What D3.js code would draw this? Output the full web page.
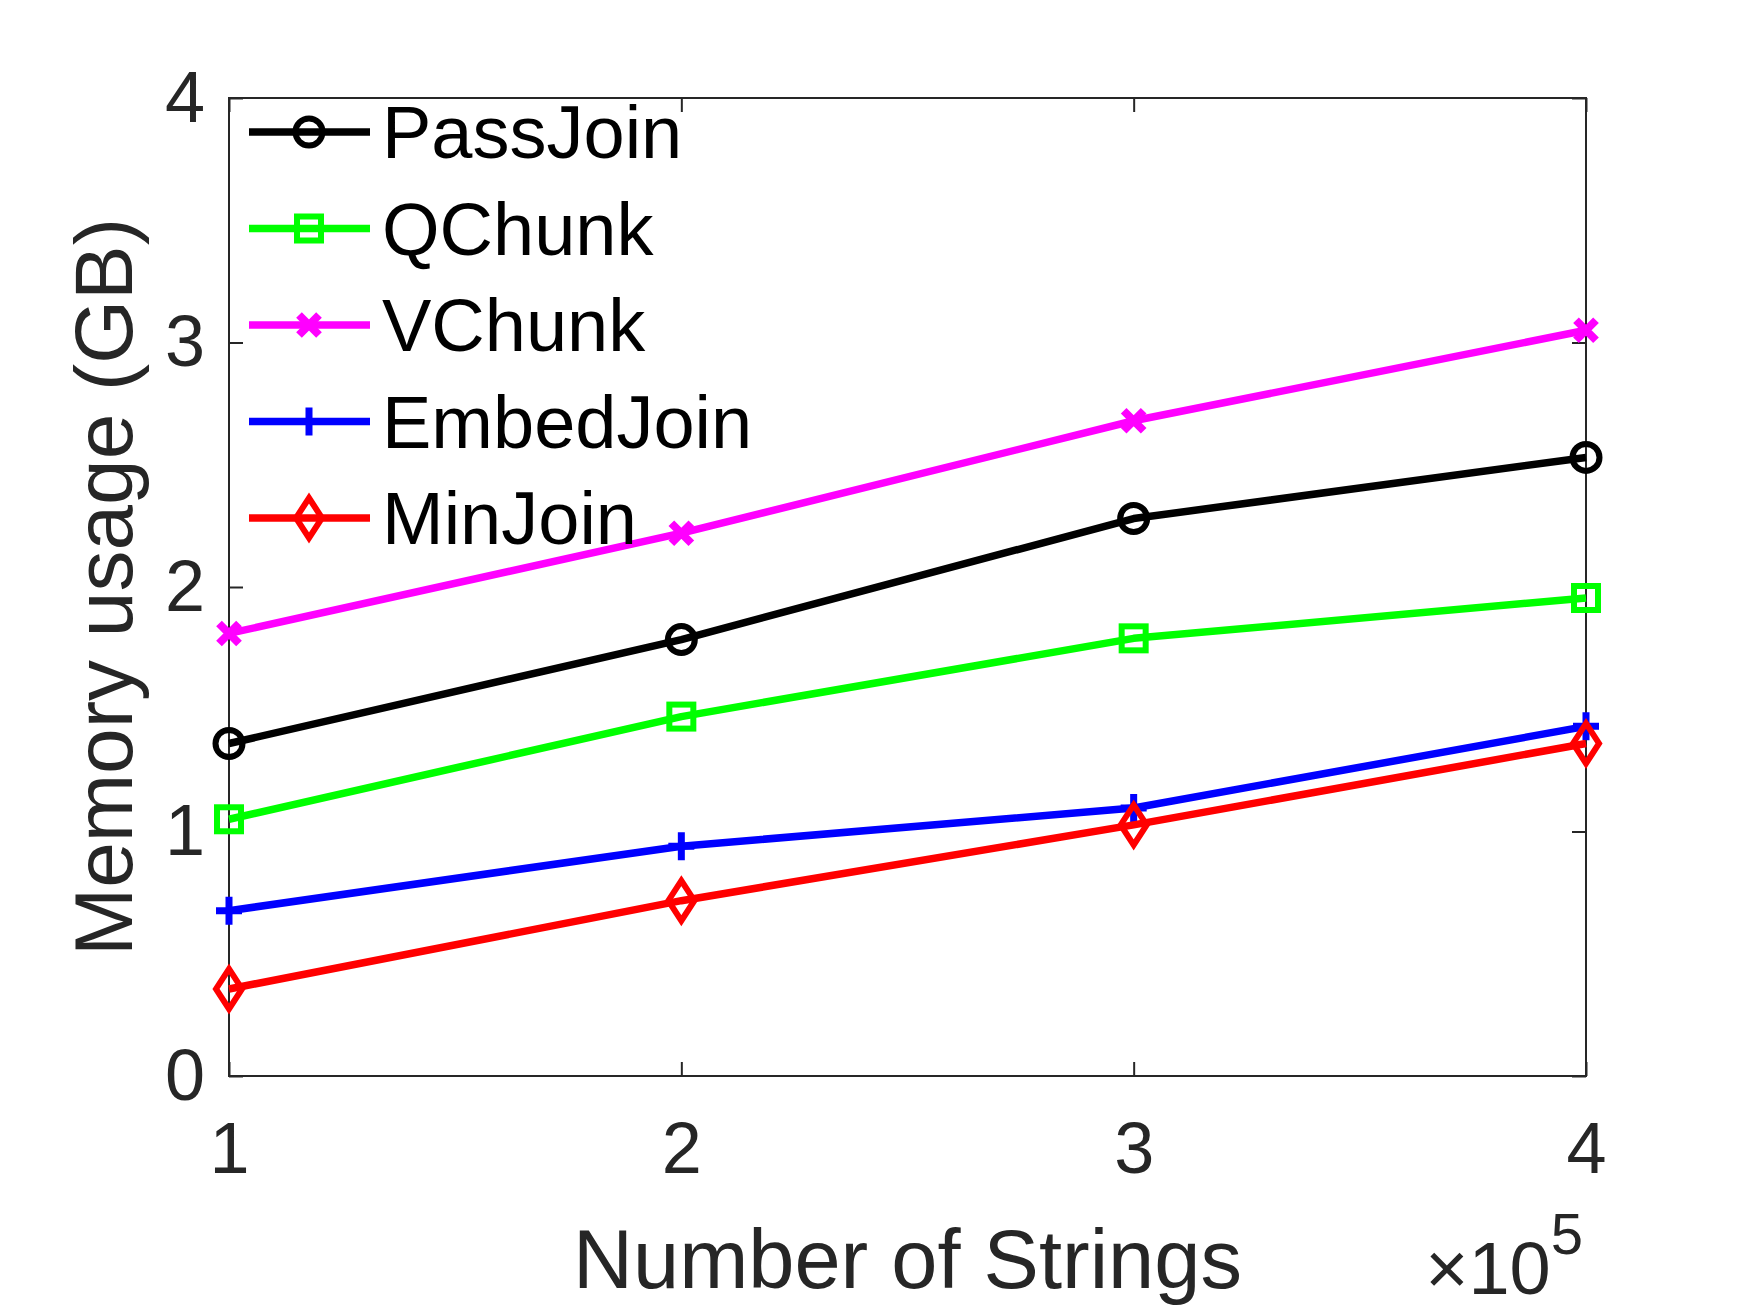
<!DOCTYPE html>
<html>
<head>
<meta charset="utf-8">
<script src="https://cdn.jsdelivr.net/npm/d3@7"></script>
<style>
  body { margin: 0; background: #fff; }
  text { font-family: Arial, "Liberation Sans", Helvetica, sans-serif; }
</style>
</head>
<body>
<svg id="chart" width="1750" height="1312"></svg>
<script>
// data (x in units of 1e5 strings, y in GB)
const xValues = [1, 2, 3, 4];
const xTicks = [1, 2, 3, 4];
const yTicks = [0, 1, 2, 3, 4];

const passJoin = [1.36, 1.785, 2.28, 2.53];
const qChunk = [1.05, 1.47, 1.79, 1.955];
const vChunk = [1.81, 2.22, 2.68, 3.05];
const embedJoin = [0.676, 0.94, 1.096, 1.43];
const minJoin = [0.356, 0.717, 1.027, 1.36];

const seriesNames = ["PassJoin", "QChunk", "VChunk", "EmbedJoin", "MinJoin"];

const series = [
  { name: seriesNames[0], values: passJoin, color: "#000000", marker: "circle" },
  { name: seriesNames[1], values: qChunk, color: "#00ff00", marker: "square" },
  { name: seriesNames[2], values: vChunk, color: "#ff00ff", marker: "cross" },
  { name: seriesNames[3], values: embedJoin, color: "#0000ff", marker: "plus" },
  { name: seriesNames[4], values: minJoin, color: "#ff0000", marker: "diamond" }
];

const WIDTH = 1750;
const HEIGHT = 1312;
const MARGINS = { top: 98, right: 164, bottom: 236, left: 229 };
const AXIS = "#262626";

const svg = d3.select("#chart");

const x = d3.scaleLinear()
  .domain([1, 4])
  .range([MARGINS.left, WIDTH - MARGINS.right]);

const y = d3.scaleLinear()
  .domain([0, 4])
  .range([HEIGHT - MARGINS.bottom, MARGINS.top]);

const [x0, x1] = x.range();
const [y0, y1] = y.range();

// axes box (ticks point inward, MATLAB style)
svg.append("g")
  .attr("transform", `translate(0,${y0})`)
  .call(d3.axisBottom(x).tickValues(xTicks).tickFormat(d3.format("d"))
    .tickSizeInner(-14).tickSizeOuter(0).tickPadding(46))
  .call(g => g.select(".domain").remove())
  .call(g => g.selectAll("line").attr("stroke", AXIS).attr("stroke-width", 2))
  .call(g => g.selectAll("text").attr("fill", AXIS).attr("font-size", 72));

svg.append("g")
  .attr("transform", `translate(0,${y1})`)
  .call(d3.axisTop(x).tickValues(xTicks).tickFormat("")
    .tickSizeInner(-14).tickSizeOuter(0))
  .call(g => g.select(".domain").remove())
  .call(g => g.selectAll("line").attr("stroke", AXIS).attr("stroke-width", 2));

svg.append("g")
  .attr("transform", `translate(${x0},0)`)
  .call(d3.axisLeft(y).tickValues(yTicks).tickFormat(d3.format("d"))
    .tickSizeInner(-14).tickSizeOuter(0).tickPadding(24))
  .call(g => g.select(".domain").remove())
  .call(g => g.selectAll("line").attr("stroke", AXIS).attr("stroke-width", 2))
  .call(g => g.selectAll("text").attr("fill", AXIS).attr("font-size", 72));

svg.append("g")
  .attr("transform", `translate(${x1},0)`)
  .call(d3.axisRight(y).tickValues(yTicks).tickFormat("")
    .tickSizeInner(-14).tickSizeOuter(0))
  .call(g => g.select(".domain").remove())
  .call(g => g.selectAll("line").attr("stroke", AXIS).attr("stroke-width", 2));

svg.append("rect")
  .attr("x", x0).attr("y", y1)
  .attr("width", x1 - x0).attr("height", y0 - y1)
  .attr("fill", "none").attr("stroke", AXIS).attr("stroke-width", 2);

// axis labels
svg.append("text")
  .attr("x", (x0 + x1) / 2)
  .attr("y", 1288)
  .attr("text-anchor", "middle")
  .attr("font-size", 83)
  .attr("fill", AXIS)
  .text("Number of Strings");

svg.append("text")
  .attr("transform", `translate(132,${(y0 + y1) / 2}) rotate(-90)`)
  .attr("text-anchor", "middle")
  .attr("font-size", 82)
  .attr("fill", AXIS)
  .text("Memory usage (GB)");

// exponent label
const expo = svg.append("text")
  .attr("x", x1 - 3)
  .attr("y", 1294)
  .attr("text-anchor", "end")
  .attr("font-size", 74)
  .attr("fill", AXIS);
expo.append("tspan").text("×10");
expo.append("tspan").attr("dy", -40).attr("font-size", 58).text("5");

// markers
function drawMarker(g, type, color, cx, cy) {
  const m = g.append("g").attr("transform", `translate(${cx},${cy})`);
  if (type === "circle") {
    m.append("circle").attr("r", 13.5)
      .attr("fill", "none").attr("stroke", color).attr("stroke-width", 6);
  } else if (type === "square") {
    m.append("rect").attr("x", -12).attr("y", -12).attr("width", 24).attr("height", 24)
      .attr("fill", "none").attr("stroke", color).attr("stroke-width", 6);
  } else if (type === "diamond") {
    m.append("path").attr("d", "M0,-20L13,0L0,20L-13,0Z")
      .attr("fill", "none").attr("stroke", color).attr("stroke-width", 6);
  } else if (type === "plus") {
    m.append("path").attr("d", "M-13,0H13M0,-14V14")
      .attr("stroke", color).attr("stroke-width", 7);
  } else if (type === "cross") {
    m.append("path").attr("d", "M-10,-10L10,10M-10,10L10,-10")
      .attr("stroke", color).attr("stroke-width", 8);
  }
}

const line = d3.line()
  .x((d, i) => x(xValues[i]))
  .y(d => y(d));

const plot = svg.append("g");

series.forEach(s => {
  plot.append("path")
    .datum(s.values)
    .attr("d", line)
    .attr("fill", "none")
    .attr("stroke", s.color)
    .attr("stroke-width", 7.5)
    .attr("stroke-linejoin", "round");
  s.values.forEach((v, i) => drawMarker(plot, s.marker, s.color, x(xValues[i]), y(v)));
});

// legend, no box
const legend = svg.append("g");
series.forEach((s, i) => {
  const ly = 132 + i * 96.5;
  legend.append("line")
    .attr("x1", 249).attr("x2", 370)
    .attr("y1", ly).attr("y2", ly)
    .attr("stroke", s.color).attr("stroke-width", 7.5);
  drawMarker(legend, s.marker, s.color, 309, ly);
  legend.append("text")
    .attr("x", 382)
    .attr("y", ly + 26)
    .attr("font-size", 74)
    .attr("fill", "#000")
    .text(s.name);
});
</script>
</body>
</html>
